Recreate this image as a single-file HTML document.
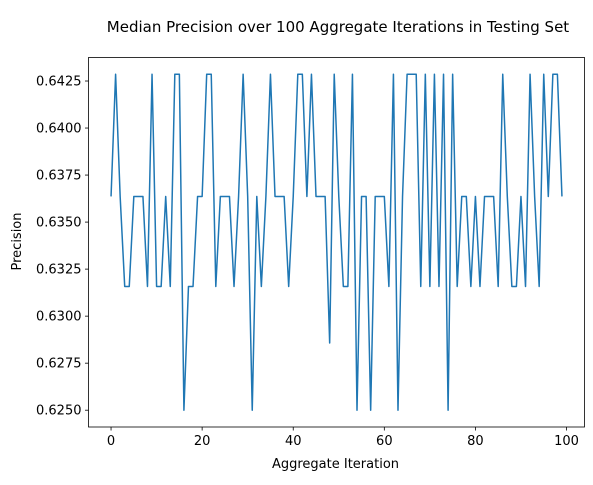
<!DOCTYPE html>
<html><head><meta charset="utf-8"><style>
body{margin:0;background:#fff;}
svg text{font-family:"DejaVu Sans","Liberation Sans",sans-serif;fill:#000;}
</style></head><body>
<svg id="chart" width="593" height="480" xmlns="http://www.w3.org/2000/svg">
<rect width="593" height="480" fill="#fff"/>
<text x="338" y="32" font-size="15" text-anchor="middle">Median Precision over 100 Aggregate Iterations in Testing Set</text>
<g id="axes"></g>
<text x="335.5" y="468" font-size="13" text-anchor="middle">Aggregate Iteration</text>
<text x="0" y="0" font-size="13" text-anchor="middle" transform="translate(21,241.5) rotate(-90)">Precision</text>
</svg>
<script>
const H=0.642857, M=0.636364, L=0.631579, B=0.625, X=0.628571;
const precisionValues=[M,H,M,L,L,M,M,M,L,H,L,L,M,L,H,H,B,L,L,M,M,H,H,L,M,M,M,L,M,H,M,B,M,L,M,H,M,M,M,L,M,H,H,M,H,M,M,M,X,H,M,L,L,H,B,M,M,B,M,M,M,L,H,B,M,H,H,H,L,H,L,H,L,H,B,H,L,M,M,L,M,L,M,M,M,L,H,M,L,L,M,L,H,M,L,H,M,H,H,M];
const xTicks=[0,20,40,60,80,100];
const yTicks=[0.6250,0.6275,0.6300,0.6325,0.6350,0.6375,0.6400,0.6425];
const pLeft=88.5,pRight=584.5,pTop=57.5,pBottom=427;
const xmin=-4.95,xmax=103.95;
const ymin=Math.min(...precisionValues),ymax=Math.max(...precisionValues);
const pad=(ymax-ymin)*0.05;
const y0=ymin-pad,y1=ymax+pad;
const sx=v=>pLeft+(v-xmin)/(xmax-xmin)*(pRight-pLeft);
const sy=v=>pBottom-(v-y0)/(y1-y0)*(pBottom-pTop);
const g=document.getElementById('axes');
const NS='http://www.w3.org/2000/svg';
function mk(t,a){const e=document.createElementNS(NS,t);for(const k in a)e.setAttribute(k,a[k]);g.appendChild(e);return e;}
const pts=precisionValues.map((v,i)=>sx(i).toFixed(2)+','+sy(v).toFixed(2)).join(' ');
const line=mk('polyline',{points:pts,fill:'none',stroke:'#1f77b4','stroke-width':1.5,'stroke-linejoin':'round'});


const frame=mk('rect',{x:pLeft,y:pTop,width:pRight-pLeft,height:pBottom-pTop,fill:'none',stroke:'#000','stroke-width':0.8});


xTicks.forEach(t=>{
  const x=sx(t);
  const tk=mk('line',{x1:x,x2:x,y1:pBottom,y2:pBottom+3.5,stroke:'#000','stroke-width':0.8});
  
  
  const lb=mk('text',{x:x,y:pBottom+18,'font-size':13,'text-anchor':'middle'});
  lb.textContent=t;
  
  
});
yTicks.forEach(t=>{
  const y=sy(t);
  const tk=mk('line',{x1:pLeft-3.5,x2:pLeft,y1:y,y2:y,stroke:'#000','stroke-width':0.8});
  
  
  const lb=mk('text',{x:pLeft-7,y:y+4.5,'font-size':13,'text-anchor':'end'});
  lb.textContent=t.toFixed(4);
  
  
});
</script>
</body></html>
